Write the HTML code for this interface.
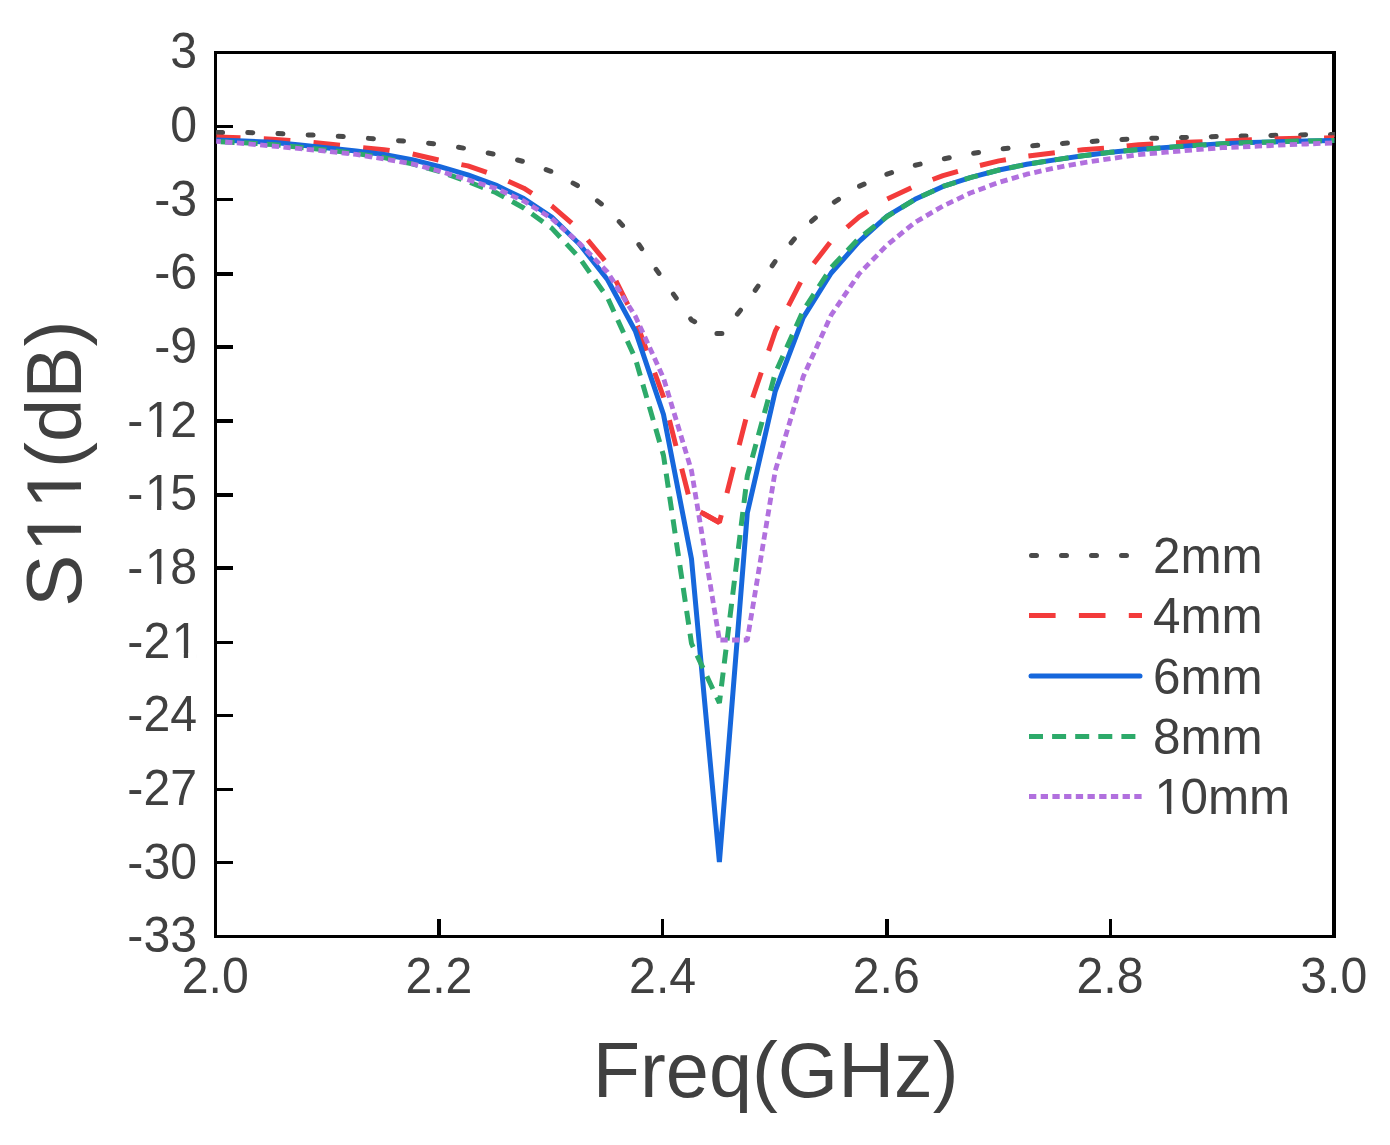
<!DOCTYPE html>
<html lang="en"><head><meta charset="utf-8"><title>S11 vs Freq</title>
<style>html,body{margin:0;padding:0;background:#fff}body{width:1390px;height:1145px;overflow:hidden}svg{display:block}text{font-family:"Liberation Sans", sans-serif;fill:#404040;font-kerning:none}</style></head><body>
<svg width="1390" height="1145" viewBox="0 0 1390 1145">
<rect width="1390" height="1145" fill="#ffffff"/>
<g fill="#000" shape-rendering="crispEdges">
<rect x="214" y="51" width="1122" height="3"/>
<rect x="214" y="935" width="1122" height="3"/>
<rect x="214" y="51" width="3" height="887"/>
<rect x="1332" y="51" width="4" height="887"/>
<rect x="216" y="125" width="17" height="3"/>
<rect x="216" y="198" width="17" height="3"/>
<rect x="216" y="272" width="17" height="4"/>
<rect x="216" y="345" width="17" height="4"/>
<rect x="216" y="419" width="17" height="4"/>
<rect x="216" y="493" width="17" height="4"/>
<rect x="216" y="566" width="17" height="4"/>
<rect x="216" y="641" width="17" height="3"/>
<rect x="216" y="714" width="17" height="3"/>
<rect x="216" y="788" width="17" height="3"/>
<rect x="216" y="861" width="17" height="3"/>
<rect x="437" y="919" width="4" height="17"/>
<rect x="661" y="919" width="3" height="17"/>
<rect x="885" y="919" width="4" height="17"/>
<rect x="1109" y="919" width="3" height="17"/>
</g>
<g transform="translate(197 68.3) scale(1 1.04)"><text font-size="48.2" x="-26.81" y="0">3</text></g>
<g transform="translate(197 142.0) scale(1 1.04)"><text font-size="48.2" x="-26.81" y="0">0</text></g>
<g transform="translate(197 215.6) scale(1 1.04)"><text font-size="48.2" x="-42.86 -26.81" y="0">-3</text></g>
<g transform="translate(197 289.3) scale(1 1.04)"><text font-size="48.2" x="-42.86 -26.81" y="0">-6</text></g>
<g transform="translate(197 363.0) scale(1 1.04)"><text font-size="48.2" x="-42.86 -26.81" y="0">-9</text></g>
<g transform="translate(197 436.6) scale(1 1.04)"><text font-size="48.2" x="-69.66 -52.11 -26.81" y="0">-12</text><rect x="-49.24" y="-4.20" width="9.25" height="5.00" fill="#fff"/><rect x="-35.73" y="-4.20" width="8.87" height="5.00" fill="#fff"/></g>
<g transform="translate(197 510.3) scale(1 1.04)"><text font-size="48.2" x="-69.66 -52.11 -26.81" y="0">-15</text><rect x="-49.24" y="-4.20" width="9.25" height="5.00" fill="#fff"/><rect x="-35.73" y="-4.20" width="8.87" height="5.00" fill="#fff"/></g>
<g transform="translate(197 584.0) scale(1 1.04)"><text font-size="48.2" x="-69.66 -52.11 -26.81" y="0">-18</text><rect x="-49.24" y="-4.20" width="9.25" height="5.00" fill="#fff"/><rect x="-35.73" y="-4.20" width="8.87" height="5.00" fill="#fff"/></g>
<g transform="translate(197 657.6) scale(1 1.04)"><text font-size="48.2" x="-69.66 -53.61 -25.30" y="0">-21</text><rect x="-22.43" y="-4.20" width="9.25" height="5.00" fill="#fff"/><rect x="-8.92" y="-4.20" width="8.87" height="5.00" fill="#fff"/></g>
<g transform="translate(197 731.3) scale(1 1.04)"><text font-size="48.2" x="-69.66 -53.61 -26.81" y="0">-24</text></g>
<g transform="translate(197 805.0) scale(1 1.04)"><text font-size="48.2" x="-69.66 -53.61 -26.81" y="0">-27</text></g>
<g transform="translate(197 878.6) scale(1 1.04)"><text font-size="48.2" x="-69.66 -53.61 -26.81" y="0">-30</text></g>
<g transform="translate(197 952.3) scale(1 1.04)"><text font-size="48.2" x="-69.66 -53.61 -26.81" y="0">-33</text></g>
<g transform="translate(215.2 993.4) scale(1 1.04)"><text font-size="48.2" x="-33.50 -6.70 6.70" y="0">2.0</text></g>
<g transform="translate(438.9 993.4) scale(1 1.04)"><text font-size="48.2" x="-33.50 -6.70 6.70" y="0">2.2</text></g>
<g transform="translate(662.6 993.4) scale(1 1.04)"><text font-size="48.2" x="-33.50 -6.70 6.70" y="0">2.4</text></g>
<g transform="translate(886.3 993.4) scale(1 1.04)"><text font-size="48.2" x="-33.50 -6.70 6.70" y="0">2.6</text></g>
<g transform="translate(1110.0 993.4) scale(1 1.04)"><text font-size="48.2" x="-33.50 -6.70 6.70" y="0">2.8</text></g>
<g transform="translate(1333.7 993.4) scale(1 1.04)"><text font-size="48.2" x="-33.50 -6.70 6.70" y="0">3.0</text></g>
<g transform="translate(775.7 1096.5)"><text font-size="77.5" x="-182.98 -135.64 -109.84 -66.73 -23.63 2.18 62.46 118.43 157.18" y="0">Freq(GHz)</text></g>
<g transform="translate(81.4 463.7) rotate(-90)"><text font-size="78" x="-143.07 -88.61 -45.23 -4.28 21.69 65.07 117.10" y="0">S11(dB)</text><rect x="-83.47" y="-6.43" width="14.47" height="7.23" fill="#fff"/><rect x="-62.10" y="-6.43" width="13.86" height="7.23" fill="#fff"/><rect x="-40.09" y="-6.43" width="14.47" height="7.23" fill="#fff"/><rect x="-18.72" y="-6.43" width="13.86" height="7.23" fill="#fff"/></g>
<clipPath id="plotclip"><rect x="215.9" y="40" width="1119.1" height="900"/></clipPath>
<g fill="none" stroke-linejoin="bevel" clip-path="url(#plotclip)">
<path d="M216.3 132.5 L244.2 132.5 L272.2 133.3 L300.1 134.7 L328.1 135.6 L356.1 137.4 L384.0 139.6 L412.0 141.6 L439.9 144.4 L467.9 148.8 L495.8 154.5 L523.8 161.6 L551.7 171.6 L579.6 186.7 L607.6 208.9 L635.5 239.7 L663.5 279.9 L691.5 320.0 L716.9 333.5 L719.4 333.5" stroke="#4a4a4a" stroke-width="5.0" stroke-linecap="round" stroke-dasharray="5.0 25.2" stroke-dashoffset="-1.26"/>
<path d="M719.4 333.5 L721.9 333.5 L747.3 301.7 L775.3 261.3 L803.2 228.6 L831.2 204.0 L859.2 186.3 L887.1 174.1 L915.0 165.3 L943.0 159.0 L971.0 153.7 L998.9 149.3 L1026.8 146.2 L1054.8 143.9 L1082.8 142.0 L1110.7 140.2 L1138.7 138.5 L1166.6 138.0 L1194.5 137.2 L1222.5 136.4 L1250.4 135.9 L1278.4 135.3 L1306.3 134.8 L1334.3 134.5" stroke="#4a4a4a" stroke-width="5.0" stroke-linecap="round" stroke-dasharray="5.0 24.8" stroke-dashoffset="2.50"/>
<path d="M216.3 137.0 L244.2 138.0 L272.2 139.2 L300.1 141.3 L328.1 144.0 L356.1 147.0 L384.0 149.8 L412.0 153.8 L439.9 160.3 L467.9 165.9 L495.8 175.5 L523.8 188.2 L551.7 205.8 L579.6 230.1 L607.6 264.0 L635.5 320.0 L663.5 397.0 L691.5 507.0 L719.4 522.5" stroke="#f33b3b" stroke-width="5.0" stroke-linecap="butt" stroke-dasharray="26.6 23.3" stroke-dashoffset="2.40"/>
<path d="M691.5 507.0 L719.4 522.5 L747.3 413.5 L775.3 331.2 L803.2 277.1 L831.2 241.0 L859.2 216.9 L887.1 199.1 L915.0 185.9 L943.0 175.7 L971.0 167.7 L998.9 160.9 L1026.8 156.3 L1054.8 152.8 L1082.8 149.8 L1110.7 147.7 L1138.7 144.8 L1166.6 143.2 L1194.5 142.1 L1222.5 141.0 L1250.4 139.8 L1278.4 138.8 L1306.3 138.1 L1334.3 137.8" stroke="#f33b3b" stroke-width="5.0" stroke-linecap="butt" stroke-dasharray="26.6 22.8" stroke-dashoffset="-12.96"/>
<path d="M216.3 139.9 L244.2 140.9 L272.2 142.3 L300.1 145.1 L328.1 147.9 L356.1 150.9 L384.0 154.5 L412.0 159.6 L439.9 166.7 L467.9 174.9 L495.8 185.1 L523.8 198.6 L551.7 217.0 L579.6 244.3 L607.6 279.7 L635.5 331.4 L663.5 414.5 L691.5 559.0 L719.4 862.0 L747.3 513.0 L775.3 391.0 L803.2 317.7 L831.2 273.0 L859.2 241.4 L887.1 216.2 L915.0 199.3 L943.0 186.4 L971.0 177.4 L998.9 170.0 L1026.8 164.3 L1054.8 159.9 L1082.8 155.7 L1110.7 152.3 L1138.7 149.6 L1166.6 147.4 L1194.5 145.4 L1222.5 143.8 L1250.4 142.6 L1278.4 141.7 L1306.3 140.9 L1334.3 140.5" stroke="#1667dc" stroke-width="5.0" stroke-linecap="butt"/>
<path d="M216.3 141.7 L244.2 142.8 L272.2 144.5 L300.1 147.3 L328.1 150.2 L356.1 153.5 L384.0 157.6 L412.0 163.9 L439.9 171.6 L467.9 181.6 L495.8 192.5 L523.8 208.0 L551.7 228.1 L579.6 258.1 L607.6 297.8 L635.5 359.0 L663.5 455.5 L691.5 643.5 L719.4 703.0 L747.3 476.0 L775.3 373.0 L803.2 310.6 L831.2 267.5 L859.2 238.1 L887.1 216.5 L915.0 199.3 L943.0 186.4 L971.0 177.4 L998.9 170.0 L1026.8 164.3 L1054.8 159.9 L1082.8 155.7 L1110.7 152.3 L1138.7 149.6 L1166.6 147.4 L1194.5 145.4 L1222.5 143.8 L1250.4 142.6 L1278.4 141.7 L1306.3 140.9 L1334.3 140.5" stroke="#2daa6a" stroke-width="5.0" stroke-linecap="butt" stroke-dasharray="14 9.1" stroke-dashoffset="18.82"/>
<path d="M216.3 141.3 L244.2 143.5 L272.2 146.0 L300.1 148.7 L328.1 151.3 L356.1 154.4 L384.0 159.0 L412.0 163.8 L439.9 171.2 L467.9 179.8 L495.8 188.4 L523.8 201.0 L551.7 218.5 L579.6 243.5 L607.6 272.2 L635.5 316.5 L663.5 378.0 L691.5 470.7 L719.4 640.0" stroke="#b170de" stroke-width="4.8" stroke-linecap="butt" stroke-dasharray="7.3 4.4" stroke-dashoffset="2.80"/>
<path d="M719.4 640.0 L747.3 640.0 L775.3 470.6 L803.2 376.8 L831.2 315.0 L859.2 273.7 L887.1 245.0 L915.0 222.4 L943.0 206.0 L971.0 192.7 L998.9 182.4 L1026.8 174.2 L1054.8 168.0 L1082.8 162.8 L1110.7 158.6 L1138.7 154.6 L1166.6 152.2 L1194.5 149.8 L1222.5 147.7 L1250.4 146.5 L1278.4 145.2 L1306.3 144.0 L1334.3 142.9" stroke="#b170de" stroke-width="4.8" stroke-linecap="butt" stroke-dasharray="7.3 4.4" stroke-dashoffset="10.70"/>
</g>
<g fill="none" stroke-width="5">
<path d="M1031.5 555.4 H1142" stroke="#4a4a4a" stroke-linecap="round" stroke-dasharray="5 25"/>
<path d="M1029 615.5 H1142" stroke="#f33b3b" stroke-dasharray="26.6 23.3"/>
<path d="M1031 676 H1140" stroke="#1667dc" stroke-linecap="round"/>
<path d="M1029 736.5 H1142" stroke="#2daa6a" stroke-dasharray="14 9.1"/>
<path d="M1029 796.5 H1142" stroke="#b170de" stroke-dasharray="7.3 4.4"/>
</g>
<g transform="translate(1153 572.9) scale(1 1.015)"><text font-size="49.4" x="0.00 27.47 68.62" y="0">2mm</text></g>
<g transform="translate(1153 633.0) scale(1 1.015)"><text font-size="49.4" x="0.00 27.47 68.62" y="0">4mm</text></g>
<g transform="translate(1153 693.5) scale(1 1.015)"><text font-size="49.4" x="0.00 27.47 68.62" y="0">6mm</text></g>
<g transform="translate(1153 754.0) scale(1 1.015)"><text font-size="49.4" x="0.00 27.47 68.62" y="0">8mm</text></g>
<g transform="translate(1153 814.0) scale(1 1.015)"><text font-size="49.4" x="1.54 27.47 54.95 96.10" y="0">10mm</text><rect x="4.51" y="-4.29" width="9.46" height="5.09" fill="#fff"/><rect x="18.33" y="-4.29" width="9.07" height="5.09" fill="#fff"/></g>
</svg></body></html>
